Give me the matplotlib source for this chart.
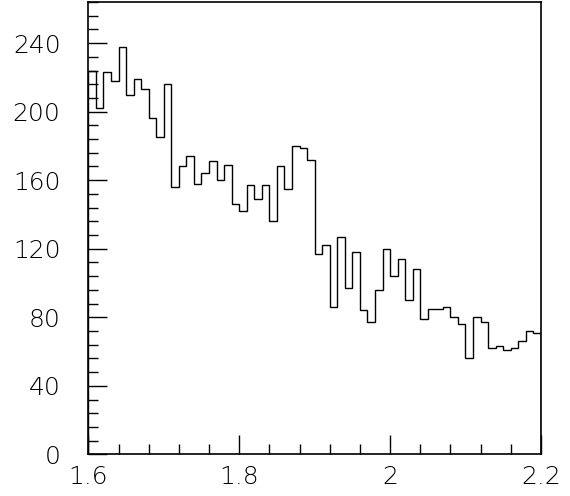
import numpy as np
import matplotlib.pyplot as plt
from matplotlib.ticker import MultipleLocator

# histogram range and contents (60 bins of 0.01)
x_lo, x_hi = 1.6, 2.2
counts = [224, 202, 223, 218, 238, 210, 219, 213, 196, 185,
          216, 156, 168, 174, 158, 164, 171, 160, 169, 146,
          142, 157, 149, 157, 136, 168, 155, 180, 179, 172,
          117, 122, 86, 127, 97, 118, 84, 77, 96, 120,
          104, 114, 90, 108, 79, 85, 85, 86, 80, 76,
          56, 80, 77, 62, 63, 61, 62, 66, 72, 71]
y_max = 264

plt.rcParams['font.family'] = ['DejaVu Sans']
plt.rcParams['font.weight'] = 'light'

fig = plt.figure(figsize=(5.7, 4.96), dpi=100)
ax = fig.add_axes([0.155, 0.084, 0.794, 0.912])

edges = np.linspace(x_lo, x_hi, len(counts) + 1)
ax.stairs(counts, edges, color='black', linewidth=1.0)

ax.set_xlim(x_lo, x_hi)
ax.set_ylim(0, y_max)

ax.xaxis.set_major_locator(MultipleLocator(0.2))
ax.xaxis.set_minor_locator(MultipleLocator(0.04))
ax.yaxis.set_major_locator(MultipleLocator(40))
ax.yaxis.set_minor_locator(MultipleLocator(8))
ax.set_xticks([1.6, 1.8, 2.0, 2.2], ['1.6', '1.8', '2', '2.2'])

ax.tick_params(which='both', direction='in', top=False, right=False,
               width=1.0, labelsize=18)
ax.tick_params(which='major', length=14)
ax.tick_params(which='minor', length=7)
ax.tick_params(axis='y', pad=20)
ax.tick_params(axis='x', pad=8)

for s in ax.spines.values():
    s.set_linewidth(1.2)

fig.savefig('out.png', dpi=100)
